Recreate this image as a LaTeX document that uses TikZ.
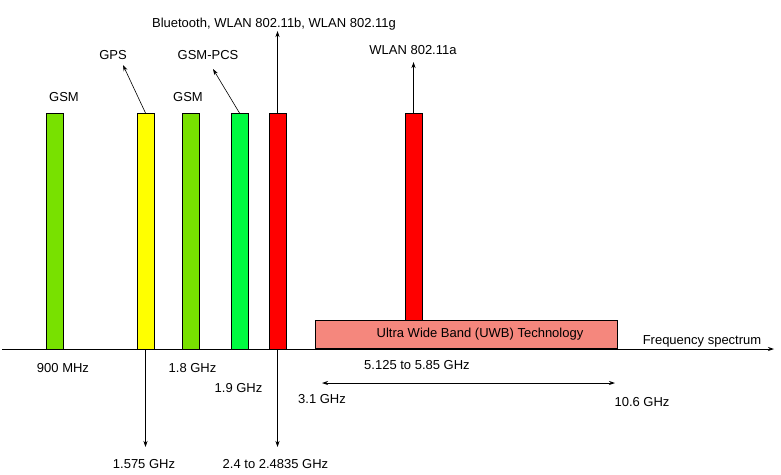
\documentclass[tikz,border=0pt]{standalone}
\usepackage{fontspec}
\setmainfont{Liberation Sans}
\usetikzlibrary{arrows.meta}
\definecolor{gsmc}{RGB}{120,225,0}
\definecolor{gpsc}{RGB}{255,255,0}
\definecolor{pcsc}{RGB}{0,250,64}
\definecolor{redc}{RGB}{255,0,0}
\definecolor{uwbc}{RGB}{245,135,125}
\begin{document}
\begin{tikzpicture}[x=1pt,y=-1pt,
  bar/.style={draw=black,line width=0.9pt},
  lbl/.style={font=\fontsize{13}{15}\selectfont,inner sep=0pt},
  arr/.style={-{Stealth[length=6pt,width=4pt]},line width=0.8pt},
  thin arr/.style={-{Stealth[length=6pt,width=4pt]},line width=0.6pt}]
\useasboundingbox (0,0) rectangle (781,474);
% bars
\path[bar,fill=gsmc] (46,113) rectangle (63,349);
\path[bar,fill=gpsc] (137,113) rectangle (154,349);
\path[bar,fill=gsmc] (182,113) rectangle (199,349);
\path[bar,fill=pcsc] (231,113) rectangle (248,349);
\path[bar,fill=redc] (269,113) rectangle (286,349);
\path[bar,fill=redc] (405,113) rectangle (422,322);
\node[bar,fill=uwbc,minimum width=302pt,minimum height=28pt,inner sep=0pt,anchor=south west] (uwb) at (315,349) {};
\node[lbl] (uwbt) at (480,334) {Ultra Wide Band (UWB) Technology};
% axis
\coordinate (ax0) at (2,349);
\coordinate (ax1) at (774,349);
\draw[arr] (ax0) -- (ax1);
% top labels
\node[lbl] (gsmA) at (64,97) {GSM};
\node[lbl] (gsmB) at (188,97) {GSM};
\node[lbl] (gps) at (113,55) {GPS};
\node[lbl] (pcs) at (208,55) {GSM-PCS};
\node[lbl] (bt) at (274,24) {Bluetooth, WLAN 802.11b, WLAN 802.11g};
\node[lbl] (wa) at (413,50) {WLAN 802.11a};
% top arrows
\coordinate (gpsTop) at (145.5,113);
\coordinate (gpsTip) at (123,65);
\draw[thin arr] (gpsTop) -- (gpsTip);
\coordinate (pcsTop) at (239.5,113);
\coordinate (pcsTip) at (213,69);
\draw[thin arr] (pcsTop) -- (pcsTip);
\coordinate (btTop) at (277.5,113);
\coordinate (btTip) at (277.5,31);
\draw[arr] (btTop) -- (btTip);
\coordinate (waTop) at (413.5,113);
\coordinate (waTip) at (413.5,62);
\draw[arr] (waTop) -- (waTip);
% bottom arrows
\coordinate (gpsB0) at (145.5,349);
\coordinate (gpsB1) at (145.5,447);
\draw[arr] (gpsB0) -- (gpsB1);
\coordinate (btB0) at (277.5,349);
\coordinate (btB1) at (277.5,447);
\draw[arr] (btB0) -- (btB1);
\coordinate (uwL) at (322,383);
\coordinate (uwR) at (615,383);
\draw[{Stealth[length=6pt,width=4pt]}-{Stealth[length=6pt,width=4pt]},line width=0.8pt] (uwL) -- (uwR);
% bottom labels
\node[lbl] (f900) at (63,368) {900 MHz};
\node[lbl] (f18) at (192.5,368) {1.8 GHz};
\node[lbl] (f19) at (238.5,388) {1.9 GHz};
\node[lbl] (f1575) at (144,464) {1.575 GHz};
\node[lbl] (f24) at (275.5,464) {2.4 to 2.4835 GHz};
\node[lbl] (f31) at (322,399) {3.1 GHz};
\node[lbl] (f5) at (417,365) {5.125 to 5.85 GHz};
\node[lbl] (f106) at (642,402) {10.6 GHz};
\node[lbl] (fs) at (702,341) {Frequency spectrum};
\end{tikzpicture}
\end{document}
